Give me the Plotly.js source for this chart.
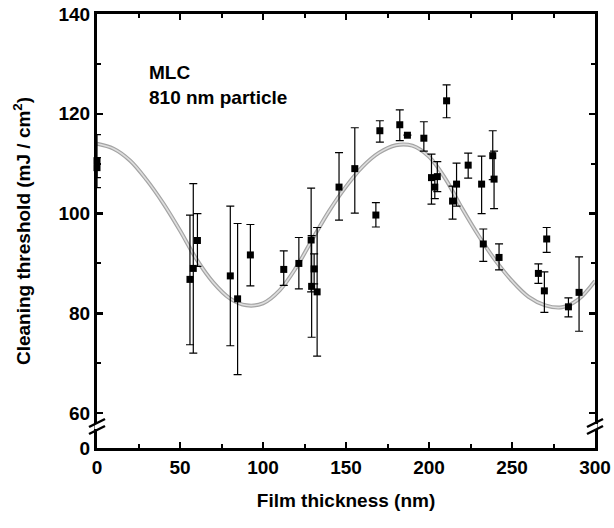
<!DOCTYPE html>
<html>
<head>
<meta charset="utf-8">
<script src="https://cdn.plot.ly/plotly-3.0.1.min.js"></script>
<style>html,body{margin:0;padding:0;background:#fff;}#chart{width:614px;height:528px;}</style>
</head>
<body>
<div id="chart"></div>
<script>
// Measured points (film thickness in nm, cleaning threshold in mJ/cm2)
const thickness = [0, 0, 56, 58, 60.5, 80.3, 84.7, 92.4, 112.5, 121.6, 129, 129.3, 130.8, 132.6,
  145.8, 155.3, 168, 170.4, 182.4, 187, 196.9, 201.5, 203.5, 205, 210.6, 214.2, 216.6, 223.6,
  231.7, 232.7, 238.4, 239.2, 242.2, 265.9, 269.5, 270.9, 284, 290.4];
const threshold = [110.6, 109.2, 86.8, 89.0, 94.6, 87.5, 82.9, 91.7, 88.8, 90.0, 94.7, 85.4, 88.9, 84.3,
  105.3, 109.0, 99.7, 116.6, 117.8, 115.7, 115.1, 107.2, 105.3, 107.4, 122.6, 102.5, 105.9, 109.7,
  105.9, 93.9, 111.6, 106.9, 91.2, 88.0, 84.5, 94.9, 81.3, 84.2];
const errPlus = [5.2, 2.0, 12.9, 17.0, 5.4, 14.0, 15.1, 6.1, 3.7, 5.2, 10.4, 10.2, 3.0, 12.9,
  6.9, 8.2, 2.5, 2.0, 3.0, 0, 3.3, 4.7, 2.3, 3.0, 3.2, 3.0, 4.2, 2.4,
  5.6, 3.0, 5.0, 5.6, 2.7, 1.9, 3.8, 2.3, 1.8, 7.1];
const errMinus = [5.4, 2.0, 13.1, 17.0, 5.2, 14.0, 15.2, 6.2, 3.2, 5.1, 10.4, 10.2, 3.0, 12.9,
  6.6, 8.9, 2.4, 2.3, 3.2, 0, 2.6, 5.3, 2.3, 3.0, 3.4, 3.6, 4.4, 2.6,
  5.9, 3.5, 4.8, 5.9, 2.5, 2.0, 4.3, 2.7, 2.0, 7.8];

// Fitted curve
const fitX = [0, 10, 20, 30, 40, 50, 60, 70, 80, 90, 100, 110, 120, 130, 140, 150, 160, 170, 180, 190,
  200, 210, 220, 230, 240, 250, 260, 270, 280, 290, 300];
const fitY = [114.0, 113.0, 110.6, 106.7, 102.0, 96.6, 90.8, 86.2, 83.0, 81.6, 82.0, 84.6, 89.2, 95.0,
  100.6, 105.4, 109.4, 112.2, 113.7, 113.6, 111.4, 106.9, 101.0, 95.5, 90.6, 86.5, 83.3, 81.6, 81.2, 82.8, 86.5];

// Axis ticks (y axis is broken: the bottom tick stands for 0)
const xTicks = [0, 50, 100, 150, 200, 250, 300];
const xMinor = [25, 75, 125, 175, 225, 275];
const yTickVals = [53, 60, 80, 100, 120, 140];
const yTickText = ['0', '60', '80', '100', '120', '140'];
const yMinor = [70, 90, 110, 130];

const FONT = 'Liberation Sans, Arial, Helvetica, sans-serif';

const traces = [
  {x: fitX, y: fitY, mode: 'lines', line: {color: '#a4a4a4', width: 4, shape: 'spline'}, hoverinfo: 'skip', showlegend: false},
  {x: fitX, y: fitY, mode: 'lines', line: {color: '#dedede', width: 1.6, shape: 'spline'}, hoverinfo: 'skip', showlegend: false},
  {x: thickness, y: threshold, mode: 'markers', type: 'scatter', cliponaxis: false,
   marker: {symbol: 'square', size: 7, color: '#000'},
   error_y: {type: 'data', symmetric: false, array: errPlus, arrayminus: errMinus, color: '#000', thickness: 1.2, width: 4},
   showlegend: false}
];

// break-mark geometry (paper coords)
const pw = 498, ph = 434;
function slash(xc, yc) {
  return {type: 'line', xref: 'paper', yref: 'paper', x0: xc - 8 / pw, y0: yc - 4 / ph, x1: xc + 8 / pw, y1: yc + 4 / ph,
    line: {color: '#000', width: 2.5}};
}
const yb1 = 18 / ph, yb2 = 25 / ph;
const shapes = [
  {type: 'line', xref: 'paper', yref: 'paper', x0: 0, x1: 0, y0: yb1 + 1 / ph, y1: yb2 - 1 / ph, line: {color: '#fff', width: 5}},
  {type: 'line', xref: 'paper', yref: 'paper', x0: 1, x1: 1, y0: yb1 + 1 / ph, y1: yb2 - 1 / ph, line: {color: '#fff', width: 5}},
  slash(0, yb1), slash(0, yb2), slash(1, yb1), slash(1, yb2)
];

const layout = {
  width: 614, height: 528,
  margin: {l: 97, r: 19, t: 14, b: 80},
  paper_bgcolor: '#fff', plot_bgcolor: '#fff',
  font: {family: FONT, color: '#000'},
  showlegend: false,
  xaxis: {
    range: [0, 300], tickmode: 'array', tickvals: xTicks,
    ticks: 'inside', ticklen: 6, tickwidth: 2.5, tickcolor: '#000',
    minor: {tickmode: 'array', tickvals: xMinor, ticks: 'inside', ticklen: 4, tickwidth: 2, tickcolor: '#000'},
    showline: true, linewidth: 3, linecolor: '#000', mirror: 'allticks',
    showgrid: false, zeroline: false,
    tickfont: {family: FONT, size: 19, weight: 'bold'},
    title: {text: 'Film thickness (nm)', font: {family: FONT, size: 19, weight: 'bold'}, standoff: 17}
  },
  yaxis: {
    range: [53, 140], tickmode: 'array', tickvals: yTickVals, ticktext: yTickText,
    ticks: 'inside', ticklen: 6, tickwidth: 2.5, tickcolor: '#000',
    minor: {tickmode: 'array', tickvals: yMinor, ticks: 'inside', ticklen: 4, tickwidth: 2, tickcolor: '#000'},
    showline: true, linewidth: 3, linecolor: '#000', mirror: 'allticks',
    showgrid: false, zeroline: false,
    tickfont: {family: FONT, size: 19, weight: 'bold'},
    title: {text: 'Cleaning threshold (mJ / cm<sup>2</sup>)', font: {family: FONT, size: 19, weight: 'bold'}, standoff: 23}
  },
  shapes: shapes,
  annotations: [
    {xref: 'x', yref: 'y', x: 30, y: 128.2, xanchor: 'left', yanchor: 'middle', showarrow: false,
     text: 'MLC', font: {family: FONT, size: 19, weight: 'bold'}},
    {xref: 'x', yref: 'y', x: 30, y: 123.2, xanchor: 'left', yanchor: 'middle', showarrow: false,
     text: '810 nm particle', font: {family: FONT, size: 19, weight: 'bold'}}
  ]
};

Plotly.newPlot('chart', traces, layout, {displayModeBar: false, staticPlot: true});
</script>
</body>
</html>
